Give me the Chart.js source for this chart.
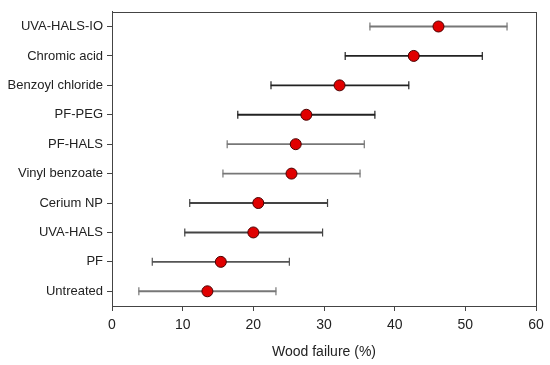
<!DOCTYPE html>
<html>
<head>
<meta charset="utf-8">
<script src="https://cdn.jsdelivr.net/npm/chart.js@4/dist/chart.umd.min.js"></script>
<style>
  html, body { margin: 0; padding: 0; background: #fff; }
  #wrap { width: 550px; height: 365px; }
</style>
</head>
<body>
<div id="wrap"><canvas id="woodChart"></canvas></div>
<script>
// treatments, top to bottom
const treatments = ['UVA-HALS-IO', 'Chromic acid', 'Benzoyl chloride', 'PF-PEG', 'PF-HALS',
    'Vinyl benzoate', 'Cerium NP', 'UVA-HALS', 'PF', 'Untreated'];
const woodFailure = [46.2, 42.7, 32.2, 27.5, 26.0, 25.4, 20.7, 20.0, 15.4, 13.5];
const errLow = [36.5, 33.0, 22.5, 17.8, 16.3, 15.7, 11.0, 10.3, 5.7, 3.8];
const errHigh = [55.9, 52.4, 42.0, 37.2, 35.7, 35.1, 30.5, 29.8, 25.1, 23.2];
const xTicks = [0, 10, 20, 30, 40, 50, 60];

const barColors = ['#777', '#222', '#222', '#222', '#777', '#777', '#444', '#444', '#555', '#777'];

// whisker range as floating bars, caps as vertical line points
const ranges = treatments.map((t, i) => [errLow[i], errHigh[i]]);
const capPoints = [];
treatments.forEach((t, i) => {
    capPoints.push({ x: errLow[i], y: t });
    capPoints.push({ x: errHigh[i], y: t });
});
const capColors = [];
barColors.forEach(c => { capColors.push(c, c); });

// box around the plot area
const frame = {
    id: 'frame',
    afterDraw(chart) {
        const a = chart.chartArea, c = chart.ctx;
        c.save();
        c.strokeStyle = '#444';
        c.lineWidth = 1;
        c.strokeRect(Math.round(a.left) + 0.5, Math.round(a.top) + 0.5,
            Math.round(a.right - a.left), Math.round(a.bottom - a.top));
        c.restore();
    }
};

const ctx = document.getElementById('woodChart').getContext('2d');
const woodChart = new Chart(ctx, {
    type: 'bar',
    data: {
        labels: treatments,
        datasets: [{
            type: 'line',
            label: 'Wood failure',
            indexAxis: 'y',
            data: woodFailure.map((v, i) => ({ x: v, y: treatments[i] })),
            showLine: false,
            pointRadius: 5.5,
            pointBackgroundColor: '#e00000',
            pointBorderColor: '#4a0000',
            pointBorderWidth: 1,
            order: 0
        }, {
            type: 'line',
            label: 'caps',
            indexAxis: 'y',
            data: capPoints,
            showLine: false,
            pointStyle: 'line',
            rotation: 90,
            pointRadius: 4,
            pointBorderWidth: 1.2,
            pointBorderColor: capColors,
            order: 2
        }, {
            label: 'range',
            data: ranges,
            backgroundColor: barColors,
            barThickness: 1.2,
            order: 3
        }]
    },
    options: {
        indexAxis: 'y',
        responsive: true,
        maintainAspectRatio: false,
        animation: false,
        layout: { padding: { left: 0, top: 10, right: 14, bottom: 0 } },
        plugins: {
            legend: { display: false },
            tooltip: { enabled: false }
        },
        scales: {
            x: {
                type: 'linear',
                min: 0,
                max: 60,
                afterBuildTicks: scale => { scale.ticks = xTicks.map(v => ({ value: v })); },
                ticks: { color: '#222', font: { family: 'Liberation Sans', size: 14 }, padding: 6 },
                grid: { drawOnChartArea: false, tickLength: 5, color: '#444' },
                border: { color: '#444' },
                title: {
                    display: true,
                    text: 'Wood failure (%)',
                    color: '#222',
                    font: { family: 'Liberation Sans', size: 14 },
                    padding: { top: 7 }
                },
                afterFit: scale => { scale.height = 59; }
            },
            y: {
                type: 'category',
                offset: true,
                ticks: { color: '#222', font: { family: 'Liberation Sans', size: 13 }, padding: 4 },
                grid: { drawOnChartArea: false, tickLength: 5, offset: false, color: '#444' },
                border: { color: '#444' },
                afterFit: scale => { scale.width = 112; }
            }
        }
    },
    plugins: [frame]
});
</script>
</body>
</html>
